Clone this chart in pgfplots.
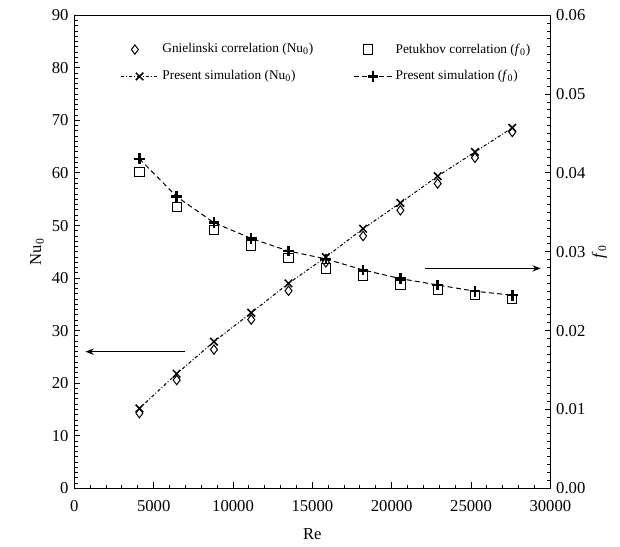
\documentclass[border=0pt]{standalone}
\usepackage{pgfplots}
\pgfplotsset{compat=1.18}
\usepackage{fontspec}
\setmainfont{Liberation Serif}
\usetikzlibrary{arrows.meta}

\pgfplotsset{
  commonax/.style={
    scale only axis,
    width=285.6pt, height=283.8pt,
    xmin=0, xmax=30000,
    tick align=inside,
    major tick length=3.5pt,
    minor tick length=2pt,
    every tick/.style={black, line width=0.6pt},
    axis line style={line width=0.8pt},
    /pgf/number format/assume math mode=true,
    /pgf/number format/1000 sep={},
    scaled x ticks=false,
    scaled y ticks=false,
    label style={font=\normalsize},
  },
  longline/.style={
    legend image code/.code={
      \draw[mark repeat=2, mark phase=2, ##1]
        plot coordinates {(0cm,0cm) (0.4cm,0cm) (0.8cm,0cm)};
    },
  },
}

\begin{document}
\begin{tikzpicture}
\useasboundingbox (-44.6pt,-35.2pt) rectangle (327.4pt,293pt);

% Nusselt number, left axis
\begin{axis}[
  commonax,
  ymin=0, ymax=90,
  xtick={0,5000,...,30000},
  minor x tick num=4,
  ytick={0,10,...,90},
  minor y tick num=9,
  xtick pos=bottom,
  ytick pos=left,
  xticklabel style={yshift=-4pt},
  xlabel={Re},
  xlabel style={yshift=-3pt},
  ylabel={Nu\textsubscript{0}},
  ylabel style={yshift=-2pt},
]
% Gnielinski correlation
\addplot[only marks, mark=diamond, mark size=2.8pt, mark options={line width=0.6pt, fill=white}] coordinates {
  (4100,14.3) (6450,20.6) (8800,26.4) (11150,32.1) (13500,37.6) (15850,43.0)
  (18200,48.0) (20550,52.9) (22900,58.0) (25250,62.9) (27600,67.8)
};
% present simulation
\addplot[black, line width=0.6pt, dash pattern=on 2pt off 1.2pt on 0.6pt off 1.2pt,
  mark=x, mark size=3.2pt, mark options={solid, line width=0.9pt}] coordinates {
  (4100,15.2) (6450,21.8) (8800,27.9) (11150,33.4) (13500,39.0) (15850,44.0)
  (18200,49.4) (20550,54.3) (22900,59.4) (25250,64.0) (27600,68.6)
};
\draw[-{Stealth[length=5pt]}, line width=0.8pt] (axis cs:7000,26) -- (axis cs:700,26);
\end{axis}

% friction factor, right axis
\begin{axis}[
  commonax,
  ymin=0, ymax=0.06,
  axis x line=none,
  axis y line*=right,
  ytick={0,0.01,...,0.06},
  minor y tick num=9,
  yticklabel style={/pgf/number format/.cd, fixed, fixed zerofill, precision=2},
  ylabel={\textit{f}\textsubscript{0}},
  ylabel style={yshift=3pt},
  legend columns=2,
  legend style={at={(0.085,0.955)}, anchor=north west, draw=none, fill=none,
    font=\footnotesize, /tikz/every even column/.append style={column sep=22pt},
    row sep=5pt},
  legend cell align=left,
]
\addlegendimage{only marks, mark=diamond, mark size=2.8pt, mark options={line width=0.6pt}}
\addlegendentry{Gnielinski correlation (Nu\textsubscript{0})}
% Petukhov correlation
\addplot[only marks, mark=square, mark size=2.8pt, mark options={line width=0.6pt, fill=white}] coordinates {
  (4100,0.0401) (6450,0.0357) (8800,0.0328) (11150,0.0308) (13500,0.0292) (15850,0.0279)
  (18200,0.0269) (20550,0.0258) (22900,0.0252) (25250,0.0245) (27600,0.0240)
};
\addlegendentry{Petukhov correlation (\textit{f}\textsubscript{0})}
\addlegendimage{black, line width=0.6pt, dash pattern=on 2pt off 1.2pt on 0.6pt off 1.2pt,
  mark=x, mark size=3.2pt, mark options={solid, line width=0.9pt}, longline}
\addlegendentry{Present simulation (Nu\textsubscript{0})}
% present simulation
\addplot[black, line width=0.6pt, dash pattern=on 3pt off 2pt,
  mark=+, mark size=3.2pt, mark options={solid, line width=1.5pt}, longline] coordinates {
  (4100,0.0418) (6450,0.0370) (8800,0.0337) (11150,0.0317) (13500,0.0301) (15850,0.0291)
  (18200,0.0277) (20550,0.0266) (22900,0.0258) (25250,0.0250) (27600,0.0245)
};
\addlegendentry{Present simulation (\textit{f}\textsubscript{0})}
\draw[-{Stealth[length=5pt]}, line width=0.8pt] (axis cs:22100,0.0279) -- (axis cs:29400,0.0279);
\end{axis}
\end{tikzpicture}
\end{document}
